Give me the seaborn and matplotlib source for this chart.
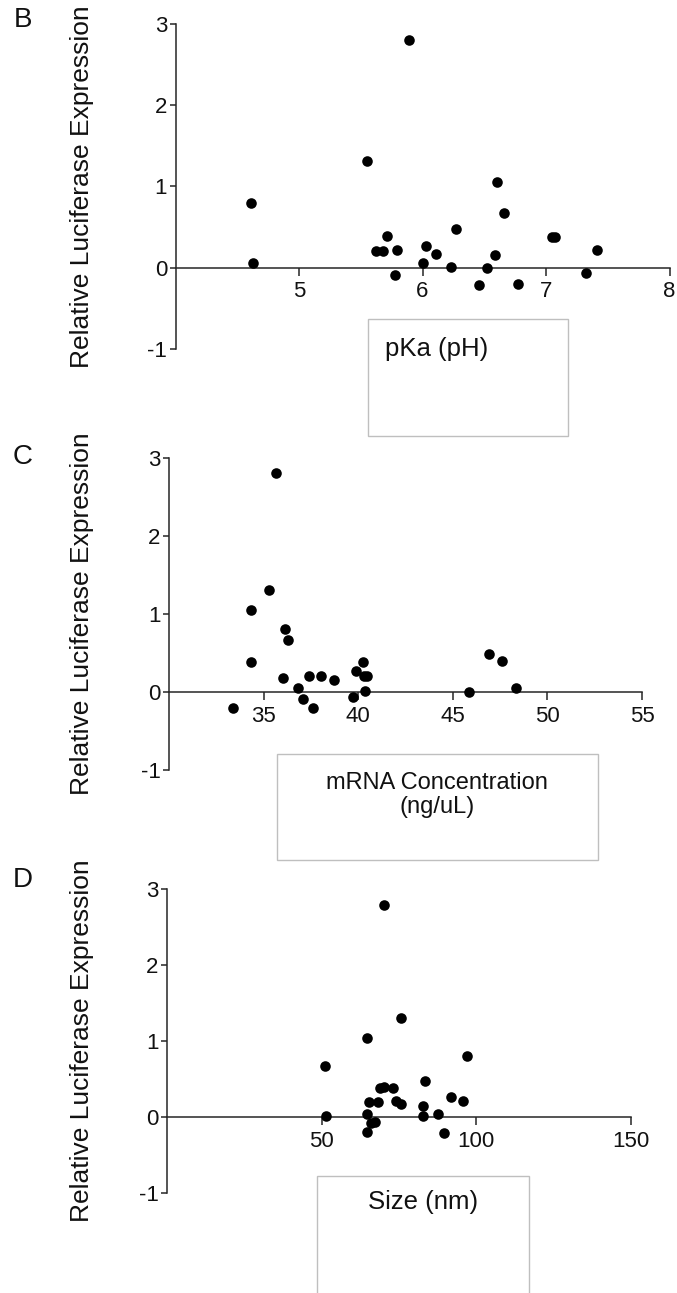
import seaborn as sns
import matplotlib.pyplot as plt
from matplotlib.patches import Rectangle

sns.set_style("ticks")
plt.rcParams['font.family'] = ['Liberation Sans', 'DejaVu Sans']
plt.rcParams['axes.unicode_minus'] = False

W, H = 677, 1293

# panel B: pKa vs expression
pka = [4.61, 4.63, 5.55, 5.89, 5.62, 5.68, 5.71, 5.79, 5.78, 6.00, 6.03, 6.11,
       6.23, 6.27, 6.46, 6.52, 6.59, 6.60, 6.66, 6.77, 7.05, 7.07, 7.32, 7.41]
pka_expr = [0.80, 0.05, 1.31, 2.80, 0.20, 0.20, 0.39, 0.21, -0.09, 0.05, 0.27, 0.17,
            0.01, 0.48, -0.21, 0.00, 0.15, 1.05, 0.67, -0.20, 0.38, 0.37, -0.07, 0.21]

# panel C: mRNA concentration vs expression
mrna = [33.36, 34.31, 34.35, 35.30, 35.65, 36.01, 36.15, 36.31, 36.84, 37.10, 37.42, 37.60,
        38.06, 38.71, 39.75, 39.86, 40.28, 40.33, 40.45, 40.35, 45.83, 46.89, 47.58, 48.34]
mrna_expr = [-0.21, 1.05, 0.38, 1.30, 2.80, 0.18, 0.80, 0.66, 0.05, -0.09, 0.21, -0.20,
             0.20, 0.15, -0.07, 0.27, 0.38, 0.21, 0.20, 0.01, 0.00, 0.48, 0.39, 0.05]

# panel D: particle size vs expression
size_nm = [51.1, 51.3, 64.6, 75.6, 64.6, 64.6, 65.4, 68.2, 66.0, 67.3, 68.9, 70.3,
           73.2, 74.1, 75.8, 83.5, 82.9, 82.7, 87.6, 89.4, 91.7, 95.8, 96.9, 70.1]
size_expr = [0.67, 0.01, 1.04, 1.30, 0.04, -0.20, 0.20, 0.20, -0.08, -0.06, 0.38, 0.39,
             0.38, 0.21, 0.17, 0.48, 0.14, 0.01, 0.04, -0.21, 0.26, 0.21, 0.80, 2.79]

y_ticks = [-1, 0, 1, 2, 3]
ylab = "Relative Luciferase Expression"

fig = plt.figure(figsize=(W / 100, H / 100), dpi=100)


def px_axes(left, top, right, bottom):
    return fig.add_axes([left / W, 1 - bottom / H, (right - left) / W, (bottom - top) / H])


panels = [
    ("B", pka, pka_expr, (175.5, 24, 669.5, 348.7), (4, 8), [5, 6, 7, 8], (23, 20)),
    ("C", mrna, mrna_expr, (169, 457.7, 642, 770), (30, 55), [35, 40, 45, 50, 55], (23, 457)),
    ("D", size_nm, size_expr, (167, 889.3, 631, 1193), (0, 150), [50, 100, 150], (23, 880)),
]

spine_col = "#262626"
for letter, xs, ys, box, xlim, xticks, lpos in panels:
    ax = px_axes(*box)
    sns.scatterplot(x=xs, y=ys, ax=ax, color="black", s=58, linewidth=0, clip_on=False, zorder=3)
    ax.set_xlim(*xlim)
    ax.set_ylim(-1, 3)
    ax.set_xticks(xticks)
    ax.set_yticks(y_ticks)
    ax.spines['top'].set_visible(False)
    ax.spines['right'].set_visible(False)
    ax.spines['bottom'].set_position(('data', 0))
    for s in ['left', 'bottom']:
        ax.spines[s].set_color(spine_col)
        ax.spines[s].set_linewidth(1.1)
    ax.tick_params(axis='x', direction='out', length=6, width=1.1, color=spine_col,
                   labelsize=16, pad=4, labelcolor="#111111")
    ax.tick_params(axis='y', direction='out', length=4.5, width=1.1, color=spine_col,
                   labelsize=16, pad=1.5, labelcolor="#111111")
    ax.set_xlabel("")
    ax.set_ylabel("")
    ax.patch.set_alpha(0)
    # panel letter and y title
    fig.text(lpos[0] / W, 1 - lpos[1] / H, letter, fontsize=20, ha='center', va='center', color="#111111")
    fig.text(82 / W, 1 - (box[1] + box[3]) / 2 / H, ylab, fontsize=19, rotation=90,
             ha='center', va='center', color="#111111")

# x-axis titles sit in bordered text boxes
boxes = [
    ((368, 319, 568, 436), "pKa (pH)", (385, 349), 'left', 18.5),
    ((277, 754, 598, 860), "mRNA Concentration\n(ng/uL)", (437, 795), 'center', 17),
    ((317, 1176, 529, 1310), "Size (nm)", (423, 1202), 'center', 18.5),
]
for (x0, y0, x1, y1), label, (tx, ty), ha, fs in boxes:
    rect = Rectangle((x0 / W, 1 - y1 / H), (x1 - x0) / W, (y1 - y0) / H,
                     transform=fig.transFigure, fill=False, edgecolor="#bfbfbf", linewidth=1)
    fig.add_artist(rect)
    fig.text(tx / W, 1 - ty / H, label, fontsize=fs, ha=ha, va='center',
             multialignment='center', linespacing=1.15, color="#111111")

plt.savefig("out.png", dpi=100)
plt.close()
